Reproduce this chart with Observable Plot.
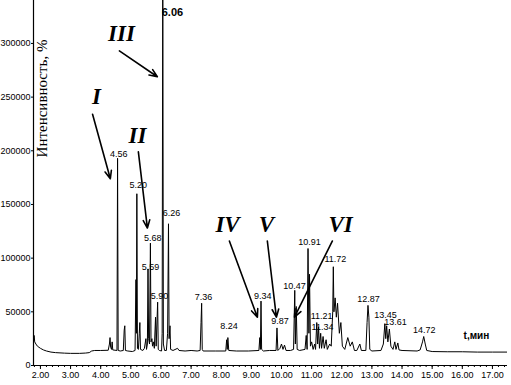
<!DOCTYPE html>
<html><head><meta charset="utf-8">
<script src="https://cdn.jsdelivr.net/npm/d3@7"></script>
<script src="https://cdn.jsdelivr.net/npm/@observablehq/plot@0.6"></script>
<style>body{margin:0;background:#fff} svg{display:block}</style>
</head><body><div id="chart"></div>
<script>
// Chromatogram trace (time, min; intensity)
const traceTime = [1.77,1.79,1.81,1.85,1.9,2.0,2.1,2.2,2.35,2.5,2.8,3.0,3.3,3.5,3.62,3.7,3.8,4.0,4.25,4.29,4.31,4.33,4.36,4.38,4.40,4.54,4.56,4.58,4.65,4.75,4.78,4.80,4.82,4.9,5.05,5.14,5.17,5.185,5.20,5.22,5.25,5.28,5.30,5.32,5.4,5.45,5.50,5.52,5.55,5.57,5.59,5.62,5.65,5.67,5.70,5.72,5.75,5.78,5.82,5.84,5.89,5.91,5.95,6.02,6.04,6.06,6.08,6.12,6.18,6.22,6.25,6.27,6.30,6.32,6.4,6.55,6.6,6.8,7.0,7.2,7.30,7.33,7.35,7.37,7.4,7.8,8.15,8.18,8.20,8.22,8.25,8.5,8.9,9.25,9.28,9.30,9.32,9.34,9.4,9.6,9.82,9.85,9.88,9.95,10.0,10.05,10.1,10.15,10.3,10.4,10.44,10.46,10.49,10.52,10.6,10.78,10.82,10.85,10.88,10.91,10.93,10.96,11.0,11.05,11.10,11.13,11.17,11.20,11.23,11.26,11.30,11.33,11.38,11.42,11.48,11.52,11.60,11.65,11.70,11.72,11.74,11.78,11.82,11.86,11.92,11.97,12.02,12.1,12.2,12.28,12.35,12.42,12.5,12.6,12.65,12.8,12.84,12.87,12.90,12.93,13.0,13.3,13.38,13.43,13.46,13.49,13.53,13.58,13.63,13.7,13.76,13.8,13.86,13.9,14.0,14.5,14.6,14.68,14.72,14.77,14.82,15.0,15.5,16.0,16.5,17.0,17.5];
const traceIntensity = [21000,28000,22000,20000,18000,16000,14500,13500,12500,12000,11500,11300,11300,11600,12000,13500,14000,14000,14200,20000,26000,17000,15000,22000,14500,14000,193000,14000,13500,14000,33000,37000,14000,13500,13000,14000,80000,30000,160000,16000,15000,30000,40000,15000,14000,16000,25000,15000,20000,90000,25000,20000,114000,22000,25000,18000,22000,16000,45000,18000,59000,15000,14000,13500,30000,380000,20000,14000,14000,30000,132000,25000,37000,15000,14000,16000,14000,13500,14000,13500,14000,40000,58000,15000,13500,13500,13500,24000,15000,26000,14000,13500,13500,14000,26000,15000,60000,15000,13500,14000,14000,35000,14000,16000,20000,15000,19000,14000,14000,15000,70000,20000,55000,15000,14000,15000,28000,15000,109000,30000,85000,18000,22000,15000,20000,15000,40000,20000,36000,16000,30000,16000,27000,16000,24000,15000,20000,18000,50000,92000,50000,63000,45000,58000,30000,40000,18000,15000,26000,18000,22000,14000,14000,20000,14000,14000,40000,56000,45000,15000,13500,14000,20000,39000,25000,37000,22000,34000,18000,15000,22000,15000,21000,14500,14000,13500,14500,22000,27000,20000,14000,13000,12800,12800,12500,12500,12500];

// Peak labels (text and where it sits, in data units)
const peakLabels = ["4.56","5.20","5.68","5.59","5.90","6.26","7.36","8.24","9.34","9.87","10.47","10.91","11.21","11.34","11.72","12.87","13.45","13.61","14.72"];
const peakLabelTime = [4.60,5.25,5.73,5.65,5.95,6.35,7.41,8.26,9.38,9.95,10.43,10.93,11.33,11.36,11.79,12.89,13.45,13.78,14.74];
const peakLabelIntensity = [196700,167800,118400,91300,64300,141700,63400,36300,64300,41000,73600,114600,45700,35400,98800,61500,47000,40000,32600];

// Main peak label
const topLabel = ["6.06"];
const topLabelTime = [6.38];
const topLabelIntensity = [329000];

// Roman numeral annotations and their arrows
const romanLabels = ["I","II","III","IV","V","VI"];
const romanTime = [3.86,5.22,4.69,8.21,9.50,11.96];
const romanIntensity = [250000,214000,309000,131000,131000,131000];
const arrowFromTime = [3.73,5.25,4.62,8.27,9.53,11.69];
const arrowFromIntensity = [234000,199000,293000,116000,116000,116000];
const arrowToTime = [4.32,5.55,5.88,9.20,9.83,10.43];
const arrowToIntensity = [174000,128000,269000,45000,45000,45000];

// Axes
const xTicks = [2,3,4,5,6,7,8,9,10,11,12,13,14,15,16,17];
const xTickLabels = ["2.00","3.00","4.00","5.00","6.00","7.00","8.00","9.00","10.00","11.00","12.00","13.00","14.00","15.00","16.00","17.00"];
const yTicks = [0,50000,100000,150000,200000,250000,300000];
const yTickLabels = ["0","50000","100000","150000","200000","250000","300000"];
const yTitle = "Интенсивность, %";
const xTitle = "t,мин";

const trace = traceTime.map((t, i) => ({t, v: traceIntensity[i]}));
const labels = peakLabels.map((s, i) => ({s, t: peakLabelTime[i], v: peakLabelIntensity[i]}));
const romans = romanLabels.map((s, i) => ({s, t: romanTime[i], v: romanIntensity[i],
  t1: arrowFromTime[i], v1: arrowFromIntensity[i], t2: arrowToTime[i], v2: arrowToIntensity[i]}));
const minorTicks = d3.range(1.8, 17.45, 0.2);

const chart = Plot.plot({
  width: 511, height: 385,
  marginLeft: 33, marginRight: 4, marginTop: 0, marginBottom: 20,
  x: {domain: [1.77, 17.5]},
  y: {domain: [0, 340000]},
  style: {fontFamily: "'Liberation Sans', Arial, sans-serif", fontSize: "9px", background: "#fff", color: "#000"},
  marks: [
    Plot.axisX({ticks: minorTicks, tickSize: 2, tickFormat: () => ""}),
    Plot.axisX({ticks: xTicks, tickSize: 4, tickPadding: 2, tickFormat: d => xTickLabels[xTicks.indexOf(d)], label: null, fontSize: 9}),
    Plot.axisY({ticks: yTicks, tickSize: 2, tickPadding: 1, tickFormat: d => yTickLabels[yTicks.indexOf(d)], label: null, fontSize: 9}),
    Plot.ruleY([0], {stroke: "#000", strokeWidth: 1.2}),
    Plot.ruleX([1.77], {stroke: "#000", strokeWidth: 1.2}),
    Plot.line(trace, {x: "t", y: "v", stroke: "#000", strokeWidth: 1, clip: true}),
    Plot.text(labels, {x: "t", y: "v", text: "s", fontSize: 9, fill: "#000"}),
    Plot.text(topLabel.map((s, i) => ({s, t: topLabelTime[i], v: topLabelIntensity[i]})), {x: "t", y: "v", text: "s", fontSize: 11, fontWeight: "bold", fill: "#000"}),
    Plot.arrow(romans, {x1: "t1", y1: "v1", x2: "t2", y2: "v2", stroke: "#000", strokeWidth: 1.6, headLength: 8, headAngle: 45}),
    Plot.text(romans, {x: "t", y: "v", text: "s", fontSize: 23, fontWeight: "bold", fontStyle: "italic", fontFamily: "'Liberation Serif', 'Times New Roman', serif", fill: "#000"}),
    Plot.text([yTitle], {frameAnchor: "top-left", dx: 9, dy: 98, rotate: -90, textAnchor: "middle", lineAnchor: "middle", fontSize: 15, fontFamily: "'Liberation Serif', 'Times New Roman', serif", fill: "#000"}),
    Plot.text([xTitle], {x: () => 16.47, y: () => 28000, fontSize: 10, fontWeight: "bold", fill: "#000"})
  ]
});
document.getElementById("chart").appendChild(chart);
</script>
</body></html>
